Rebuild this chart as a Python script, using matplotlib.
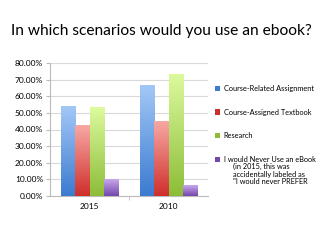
import numpy as np
import matplotlib.pyplot as plt
from matplotlib.colors import LinearSegmentedColormap
from matplotlib.ticker import PercentFormatter

years = ["2015", "2010"]
series = ["Course-Related Assignment", "Course-Assigned Textbook", "Research",
          "I would Never Use an eBook"]
note = ["(in 2015, this was", "accidentally labeled as", "\"I would never PREFER"]
related = [54.0, 67.0]
textbook = [42.5, 45.0]
research = [53.5, 73.5]
never = [10.0, 6.5]

colors = [("#a3c8f7", "#3b7bd0"), ("#f8a8a4", "#cf2f2b"),
          ("#dcfa9e", "#8dbd38"), ("#c8a8ec", "#7447ab")]

plt.rcParams['font.family'] = ['Lato', 'DejaVu Sans']

fig = plt.figure(figsize=(3.2, 2.4), dpi=100)
ax = fig.add_axes([50/320, 1 - 196/240, 158/320, (196 - 63)/240])

x = np.arange(len(years))
width = 0.183
grad = np.linspace(0, 1, 100).reshape(-1, 1)
for i, (vals, c) in enumerate(zip([related, textbook, research, never], colors)):
    bars = ax.bar(x + (i - 1.5) * width, vals, width, color=c[1], label=series[i], zorder=2)
    cmap = LinearSegmentedColormap.from_list("g", [c[1], c[0]])
    for b in bars:
        x0, y0 = b.get_x(), b.get_y()
        im = ax.imshow(grad, cmap=cmap, aspect="auto", origin="lower",
                       extent=[x0, x0 + b.get_width(), y0, y0 + b.get_height()], zorder=3)
        im.set_clip_path(b)

ax.set_xlim(-0.5, 1.5)
ax.set_ylim(0, 80)
ax.set_yticks(np.arange(0, 81, 10))
ax.yaxis.set_major_formatter(PercentFormatter(decimals=2))
ax.set_xticks(x)
ax.set_xticklabels(years)
ax.set_xticks([0.5], minor=True)
ax.tick_params(axis="x", which="major", length=0, labelsize=6, pad=5)
ax.tick_params(axis="x", which="minor", length=3, color="#bbbbbb")
ax.tick_params(axis="y", length=3, labelsize=6, color="#bbbbbb", pad=2)
ax.grid(axis="y", color="#d9d9d9", linewidth=0.8, zorder=0)
for s in ["top", "right"]:
    ax.spines[s].set_visible(False)
for s in ["left", "bottom"]:
    ax.spines[s].set_color("#bbbbbb")

fig.legend(loc="upper left", bbox_to_anchor=(215/320, 1 - 85/240), frameon=False,
           fontsize=5.3, handlelength=0.7, handleheight=0.7, handletextpad=0.5,
           labelspacing=2.25, borderaxespad=0, borderpad=0)
for k, line in enumerate(note):
    fig.text(233/320, 1 - (166.5 + 7.5 * k)/240, line, fontsize=5.3, va="center")

fig.text(161/320, 1 - 31/240, "In which scenarios would you use an ebook?",
         ha="center", va="center", fontsize=11.2)

fig.savefig("out.png", dpi=100)
